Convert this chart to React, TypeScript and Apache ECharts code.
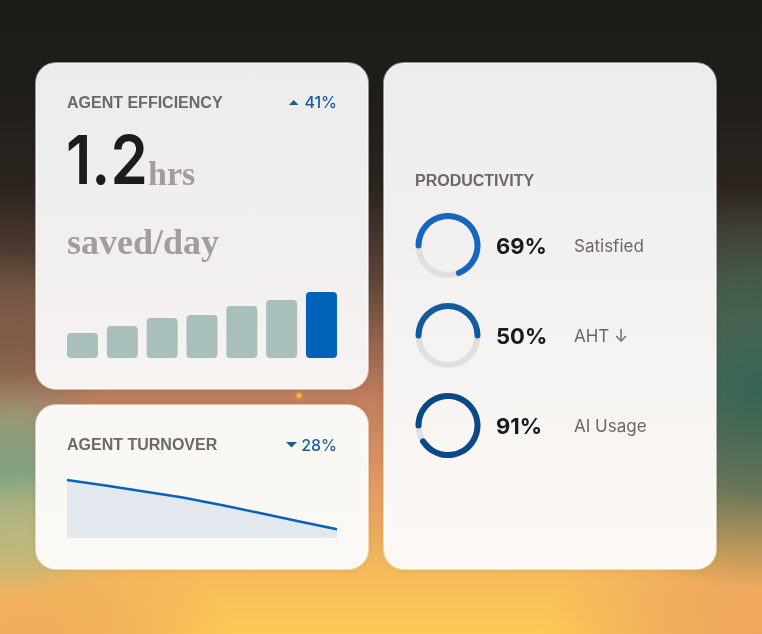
import React, { useEffect, useRef } from "react";
import * as echarts from "echarts";

// ---- data ----
const efficiencyTitle = "AGENT EFFICIENCY";
const efficiencyChange = "41%";
const efficiencyValue = "1.2";
const efficiencyUnit = "hrs";
const efficiencySub = "saved/day";
const barCategories = ["W1", "W2", "W3", "W4", "W5", "W6", "W7"];
const barValues = [25, 32, 40, 43, 52, 58, 66];

const turnoverTitle = "AGENT TURNOVER";
const turnoverChange = "28%";
const turnoverCategories = ["P1", "P2", "P3", "P4", "P5", "P6", "P7", "P8"];
const turnoverValues = [58, 52.5, 46.5, 40.5, 33, 25, 16.8, 8.7];

const productivityTitle = "PRODUCTIVITY";
const productivityLabels = ["Satisfied", "AHT ↓", "AI Usage"];
const productivityValues = [69, 50, 91];

// ---- styles ----
const ringColors = ["#1466c0", "#115c9e", "#0b4887"];
const ringCentersY = [245.5, 335.5, 425.5];
const titleFont = 'bold 16px "Liberation Sans", Arial, sans-serif';
const titleColor = "#6b6865";
const changeColor = "#1a5c9e";

function card(x: number, y: number, w: number, h: number, top: string, bottom: string) {
  return {
    type: "rect",
    shape: { x, y, width: w, height: h, r: 20 },
    style: {
      fill: new echarts.graphic.LinearGradient(0, 0, 0, 1, [
        { offset: 0, color: top },
        { offset: 1, color: bottom },
      ]),
      stroke: "rgba(255,255,255,0.5)",
      lineWidth: 2,
      shadowBlur: 8,
      shadowColor: "rgba(0,0,0,0.08)",
    },
  };
}

function glow(x: number, y: number, w: number, h: number, color: string, alpha: number) {
  return {
    type: "rect",
    shape: { x, y, width: w, height: h },
    style: {
      fill: new echarts.graphic.RadialGradient(0.5, 0.5, 0.5, [
        { offset: 0, color: `rgba(${color},${alpha})` },
        { offset: 0.5, color: `rgba(${color},${alpha * 0.7})` },
        { offset: 1, color: `rgba(${color},0)` },
      ]),
    },
  };
}

function text(x: number, y: number, t: string, font: string, fill: string, align = "left", extra: any = {}) {
  return {
    type: "text",
    x,
    y,
    ...extra,
    style: { text: t, font, fill, textAlign: align, textVerticalAlign: "middle" },
  };
}

export default function App() {
  const ref = useRef<HTMLDivElement>(null);
  useEffect(() => {
    if (!ref.current) return;
    const chart = echarts.init(ref.current, undefined, { renderer: "svg" });

    const graphics: any[] = [
      {
        type: "rect",
        shape: { x: 0, y: 0, width: 762, height: 634 },
        style: {
          fill: new echarts.graphic.LinearGradient(0, 0, 0, 1, [
            { offset: 0, color: "#1d1c19" },
            { offset: 0.15, color: "#201e1a" },
            { offset: 0.3, color: "#2c2520" },
            { offset: 0.43, color: "#5a4236" },
            { offset: 0.55, color: "#9a6850" },
            { offset: 0.63, color: "#c27e5e" },
            { offset: 0.76, color: "#e29a62" },
            { offset: 0.9, color: "#f5bb5c" },
            { offset: 1, color: "#fdca55" },
          ]),
        },
      },
      glow(-150, 250, 300, 170, "122,92,72", 0.85),
      glow(-180, 520, 420, 260, "238,168,92", 0.9),
      glow(540, 500, 460, 280, "236,158,96", 0.85),
      glow(520, 190, 480, 400, "52,100,84", 1),
      glow(-120, 370, 250, 220, "122,162,132", 1),
      glow(-100, 470, 240, 130, "200,192,130", 0.7),
      card(36, 63, 332, 326, "#ececec", "#f6f3f1"),
      card(36, 405, 332, 164, "#f9f7f4", "#fbf9f6"),
      card(384, 63, 332, 506, "#ececec", "#fcf9f5"),
      {
        type: "circle",
        shape: { cx: 299, cy: 395.5, r: 2.5 },
        style: { fill: "#f4b944", shadowBlur: 4, shadowColor: "rgba(250,190,70,0.8)" },
      },
      // efficiency card
      text(67, 102, efficiencyTitle, titleFont, titleColor),
      {
        type: "polygon",
        shape: { points: [[289, 105], [298.5, 105], [293.75, 100]] },
        style: { fill: changeColor },
      },
      text(337, 102, efficiencyChange, '500 16px Inter, sans-serif', changeColor, "right"),
      text(66, 159, efficiencyValue, '600 68px Inter, sans-serif', "#1c1c1c", "left", { scaleX: 0.88 }),
      text(148, 173.5, efficiencyUnit, 'bold 34px "Liberation Serif", serif', "#a29c9a"),
      text(67, 242, efficiencySub, 'bold 36px "Liberation Serif", serif', "#a29c9a"),
      // turnover card
      text(67, 444.5, turnoverTitle, titleFont, titleColor),
      {
        type: "polygon",
        shape: { points: [[286, 442], [297, 442], [291.5, 447.5]] },
        style: { fill: changeColor },
      },
      text(337, 444.5, turnoverChange, '500 16px Inter, sans-serif', changeColor, "right"),
      // productivity card
      text(415, 180.5, productivityTitle, titleFont, titleColor),
    ];
    productivityValues.forEach((v, i) => {
      graphics.push(text(496, ringCentersY[i], `${v}%`, '700 22px Inter, sans-serif', "#1a1a1a"));
      graphics.push(text(574, ringCentersY[i], productivityLabels[i], '400 17px Inter, sans-serif', "#6a6764"));
    });

    const gauges = productivityValues.map((v, i) => ({
      type: "gauge",
      center: [448, ringCentersY[i]],
      radius: 32.5,
      startAngle: 180,
      endAngle: -180,
      min: 0,
      max: 100,
      clockwise: true,
      z: 5,
      progress: { show: true, width: 6, roundCap: true, itemStyle: { color: ringColors[i] } },
      axisLine: { roundCap: true, lineStyle: { width: 6, color: [[1, "#e1dfdd"]] } },
      pointer: { show: false },
      anchor: { show: false },
      axisTick: { show: false },
      splitLine: { show: false },
      axisLabel: { show: false },
      detail: { show: false },
      title: { show: false },
      data: [{ value: v, name: productivityLabels[i] }],
    }));

    chart.setOption({
      animation: false,
      graphic: { elements: graphics },
      grid: [
        { left: 62.6, top: 292, width: 278.8, height: 66 },
        { left: 67, top: 478, width: 270, height: 60 },
      ],
      xAxis: [
        { type: "category", gridIndex: 0, data: barCategories, show: false },
        { type: "category", gridIndex: 1, data: turnoverCategories, show: false, boundaryGap: false },
      ],
      yAxis: [
        { type: "value", gridIndex: 0, min: 0, max: 66, show: false, splitLine: { show: false } },
        { type: "value", gridIndex: 1, min: 0, max: 60, show: false, splitLine: { show: false } },
      ],
      series: [
        {
          type: "bar",
          xAxisIndex: 0,
          yAxisIndex: 0,
          barWidth: 31,
          z: 5,
          data: barValues.map((v, i) => ({
            value: v,
            itemStyle: {
              color: i === barValues.length - 1 ? "#0063b9" : "#a9bfbb",
              borderRadius: 4,
            },
          })),
        },
        {
          type: "line",
          xAxisIndex: 1,
          yAxisIndex: 1,
          z: 5,
          data: turnoverValues,
          symbol: "none",
          lineStyle: { color: "#0a62b8", width: 2.5 },
          areaStyle: { color: "#e3e8ef", opacity: 1 },
        },
        ...gauges,
      ],
    });
    return () => chart.dispose();
  }, []);
  return (
    <div
      ref={ref}
      style={{ position: "fixed", left: 0, top: 0, width: 762, height: 634 }}
    />
  );
}
